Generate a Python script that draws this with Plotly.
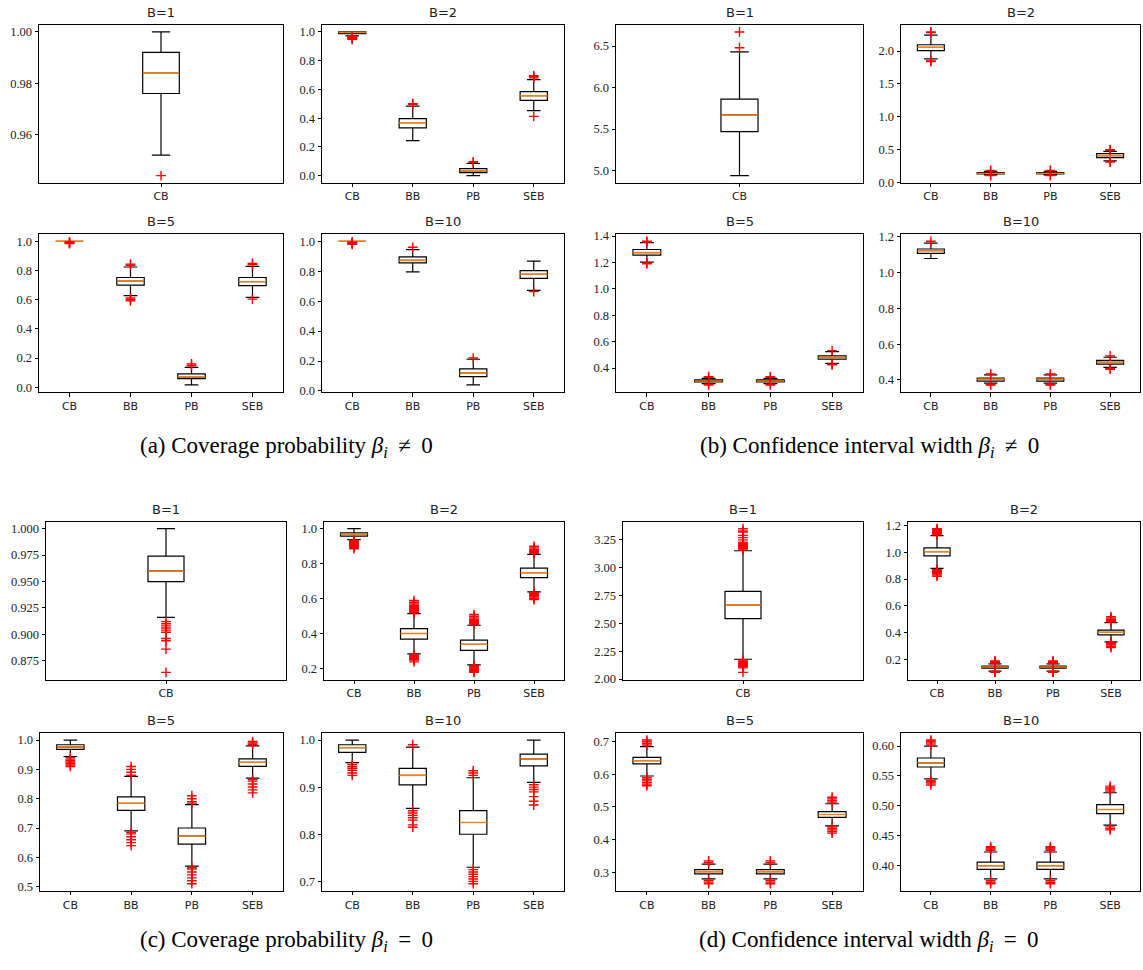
import plotly.graph_objects as go

W, H = 1143, 970

ONE = ["CB"]
FOUR = ["CB", "BB", "PB", "SEB"]

# Each row: (lower whisker, Q1, median, Q3, upper whisker) for one method.
# Outliers per method are kept in the matching *_OUT list.

# (a) coverage probability, beta_i != 0
A1 = [(0.952, 0.976, 0.984, 0.992, 1.000)]
A1_OUT = [[0.944]]
A2 = [(0.972, 0.988, 0.996, 1.000, 1.000),
      (0.244, 0.332, 0.368, 0.396, 0.484),
      (0.000, 0.020, 0.032, 0.048, 0.084),
      (0.452, 0.524, 0.556, 0.584, 0.668)]
A2_OUT = [[0.968, 0.964, 0.960, 0.956, 0.952, 0.948],
          [0.496, 0.500],
          [0.092, 0.096],
          [0.680, 0.688, 0.696, 0.412]]
A5 = [(1.000, 1.000, 1.000, 1.000, 1.000),
      (0.628, 0.700, 0.728, 0.752, 0.824),
      (0.016, 0.060, 0.072, 0.092, 0.136),
      (0.616, 0.696, 0.724, 0.752, 0.828)]
A5_OUT = [[0.996, 0.992, 0.988, 0.984],
          [0.836, 0.844, 0.612, 0.600, 0.592],
          [0.148, 0.160],
          [0.840, 0.848, 0.604]]
A10 = [(1.000, 1.000, 1.000, 1.000, 1.000),
       (0.796, 0.856, 0.872, 0.896, 0.944),
       (0.040, 0.096, 0.120, 0.148, 0.212),
       (0.672, 0.752, 0.780, 0.804, 0.868)]
A10_OUT = [[0.996, 0.992, 0.988, 0.984, 0.980],
           [0.960],
           [0.220],
           [0.664]]

# (b) confidence interval width, beta_i != 0
B1 = [(4.94, 5.47, 5.67, 5.86, 6.43)]
B1_OUT = [[6.48, 6.67]]
B2 = [(1.88, 2.005, 2.055, 2.095, 2.24),
      (0.115, 0.130, 0.140, 0.150, 0.170),
      (0.115, 0.130, 0.140, 0.150, 0.170),
      (0.330, 0.380, 0.410, 0.440, 0.475)]
B2_OUT = [[2.28, 2.29, 1.85, 1.84],
          [0.180, 0.185, 0.110, 0.106],
          [0.180, 0.185, 0.110, 0.106],
          [0.490, 0.500, 0.320, 0.310]]
B5 = [(1.203, 1.255, 1.275, 1.298, 1.350),
      (0.282, 0.295, 0.302, 0.310, 0.322),
      (0.282, 0.295, 0.302, 0.310, 0.322),
      (0.435, 0.467, 0.480, 0.492, 0.525)]
B5_OUT = [[1.355, 1.360, 1.195, 1.190],
          [0.330, 0.335, 0.278, 0.272],
          [0.330, 0.335, 0.278, 0.272],
          [0.532, 0.430, 0.425]]
B10 = [(1.079, 1.108, 1.123, 1.132, 1.165),
       (0.382, 0.393, 0.404, 0.411, 0.428),
       (0.382, 0.393, 0.404, 0.411, 0.428),
       (0.470, 0.488, 0.499, 0.510, 0.527)]
B10_OUT = [[1.175],
           [0.433, 0.430, 0.375, 0.372],
           [0.433, 0.430, 0.375, 0.372],
           [0.534, 0.465, 0.460]]

# (c) coverage probability, beta_i = 0
C1 = [(0.916, 0.950, 0.960, 0.974, 1.000)]
C1_OUT = [[0.912, 0.910, 0.908, 0.906, 0.904, 0.902, 0.896, 0.894, 0.886, 0.864]]
C2 = [(0.938, 0.958, 0.968, 0.977, 1.000),
      (0.285, 0.370, 0.402, 0.430, 0.515),
      (0.223, 0.306, 0.340, 0.364, 0.449),
      (0.640, 0.721, 0.749, 0.775, 0.853)]
C2_OUT = [[0.934, 0.930, 0.926, 0.922, 0.918, 0.914, 0.910, 0.906, 0.900, 0.894, 0.886],
          [0.520, 0.525, 0.530, 0.535, 0.540, 0.545, 0.550, 0.555, 0.560, 0.570, 0.580, 0.590,
           0.280, 0.275, 0.270, 0.265, 0.260, 0.255, 0.250, 0.240],
          [0.455, 0.460, 0.465, 0.470, 0.475, 0.480, 0.490, 0.500, 0.510,
           0.220, 0.215, 0.210, 0.205, 0.200, 0.195, 0.190, 0.185, 0.180],
          [0.860, 0.865, 0.870, 0.875, 0.880, 0.890, 0.900,
           0.635, 0.630, 0.625, 0.620, 0.615, 0.610, 0.600, 0.595]]
C5 = [(0.944, 0.968, 0.976, 0.984, 1.000),
      (0.690, 0.760, 0.784, 0.806, 0.876),
      (0.570, 0.645, 0.672, 0.700, 0.780),
      (0.870, 0.910, 0.924, 0.936, 0.980)]
C5_OUT = [[0.940, 0.935, 0.930, 0.925, 0.920, 0.915, 0.910],
          [0.880, 0.890, 0.900, 0.910, 0.685, 0.680, 0.670, 0.660, 0.650, 0.640],
          [0.785, 0.790, 0.800, 0.810, 0.565, 0.560, 0.550, 0.540, 0.530, 0.520, 0.510],
          [0.985, 0.990, 0.995, 0.865, 0.860, 0.850, 0.840, 0.830, 0.820]]
C10 = [(0.952, 0.974, 0.984, 0.990, 1.000),
       (0.855, 0.905, 0.925, 0.940, 0.985),
       (0.730, 0.800, 0.825, 0.850, 0.920),
       (0.910, 0.945, 0.960, 0.970, 1.000)]
C10_OUT = [[0.948, 0.944, 0.940, 0.936, 0.930, 0.925],
           [0.990, 0.850, 0.845, 0.840, 0.835, 0.830, 0.820, 0.815],
           [0.925, 0.930, 0.935, 0.725, 0.720, 0.715, 0.710, 0.705, 0.700, 0.695],
           [0.905, 0.900, 0.895, 0.890, 0.880, 0.870, 0.862]]

# (d) confidence interval width, beta_i = 0
D1 = [(2.178, 2.543, 2.665, 2.787, 3.152)]
D1_OUT = [[3.16, 3.17, 3.18, 3.19, 3.20, 3.21, 3.22, 3.23, 3.25, 3.27, 3.29, 3.32, 3.33, 3.35,
           2.17, 2.16, 2.15, 2.14, 2.13, 2.12, 2.11, 2.10, 2.06]]
D2 = [(0.879, 0.972, 1.004, 1.033, 1.124),
      (0.114, 0.137, 0.145, 0.152, 0.168),
      (0.114, 0.137, 0.145, 0.152, 0.168),
      (0.332, 0.384, 0.403, 0.420, 0.475)]
D2_OUT = [[1.130, 1.135, 1.140, 1.145, 1.150, 1.155, 1.160, 1.170, 1.175,
           0.870, 0.865, 0.860, 0.855, 0.850, 0.845, 0.840, 0.830, 0.820],
          [0.170, 0.175, 0.180, 0.185, 0.190, 0.112, 0.110, 0.108, 0.105],
          [0.170, 0.175, 0.180, 0.185, 0.190, 0.112, 0.110, 0.108, 0.105],
          [0.480, 0.485, 0.490, 0.495, 0.500, 0.510, 0.520,
           0.330, 0.325, 0.320, 0.315, 0.310, 0.300, 0.290]]
D5 = [(0.595, 0.632, 0.642, 0.652, 0.685),
      (0.280, 0.295, 0.302, 0.308, 0.325),
      (0.280, 0.295, 0.302, 0.308, 0.325),
      (0.442, 0.468, 0.477, 0.486, 0.510)]
D5_OUT = [[0.690, 0.695, 0.700, 0.705, 0.590, 0.585, 0.580, 0.575, 0.570, 0.565],
          [0.330, 0.335, 0.275, 0.270, 0.265],
          [0.330, 0.335, 0.275, 0.270, 0.265],
          [0.515, 0.520, 0.525, 0.530, 0.440, 0.435, 0.430, 0.425, 0.420]]
D10 = [(0.545, 0.565, 0.572, 0.580, 0.600),
       (0.378, 0.394, 0.400, 0.406, 0.423),
       (0.378, 0.394, 0.400, 0.406, 0.423),
       (0.468, 0.487, 0.494, 0.502, 0.522)]
D10_OUT = [[0.602, 0.605, 0.608, 0.610, 0.542, 0.540, 0.538, 0.535],
           [0.426, 0.428, 0.430, 0.432, 0.375, 0.372, 0.370],
           [0.426, 0.428, 0.430, 0.432, 0.375, 0.372, 0.370],
           [0.525, 0.528, 0.530, 0.533, 0.465, 0.462, 0.460]]

# Panel layout: data, fliers, categories, title, pixel box (left, right, top, bottom),
# y tick step, y tick format
PANELS = [
    (A1, A1_OUT, ONE, "B=1", (39, 283, 20, 180), 0.02, ".2f"),
    (A2, A2_OUT, FOUR, "B=2", (322, 564, 20, 180), 0.2, ".1f"),
    (A5, A5_OUT, FOUR, "B=5", (39, 283, 232, 392), 0.2, ".1f"),
    (A10, A10_OUT, FOUR, "B=10", (322, 564, 232, 392), 0.2, ".1f"),
    (B1, B1_OUT, ONE, "B=1", (616, 863, 20, 180), 0.5, ".1f"),
    (B2, B2_OUT, FOUR, "B=2", (901, 1140, 20, 180), 0.5, ".1f"),
    (B5, B5_OUT, FOUR, "B=5", (616, 863, 232, 392), 0.2, ".1f"),
    (B10, B10_OUT, FOUR, "B=10", (901, 1140, 232, 392), 0.2, ".1f"),
    (C1, C1_OUT, ONE, "B=1", (46, 286, 523, 683), 0.025, ".3f"),
    (C2, C2_OUT, FOUR, "B=2", (324, 564, 523, 683), 0.2, ".1f"),
    (C5, C5_OUT, FOUR, "B=5", (40, 283, 737, 897), 0.1, ".1f"),
    (C10, C10_OUT, FOUR, "B=10", (322, 564, 737, 897), 0.1, ".1f"),
    (D1, D1_OUT, ONE, "B=1", (623, 863, 523, 683), 0.25, ".2f"),
    (D2, D2_OUT, FOUR, "B=2", (908, 1140, 523, 683), 0.2, ".1f"),
    (D5, D5_OUT, FOUR, "B=5", (616, 863, 737, 897), 0.1, ".1f"),
    (D10, D10_OUT, FOUR, "B=10", (901, 1140, 737, 897), 0.05, ".2f"),
]

TS = "\u2009"  # thin space, for math-style spacing around the relation sign
CAPTIONS = [
    (f"(a) Coverage probability <i>β</i><sub><i>i</i></sub>{TS} ≠ {TS}0", 287, 448),
    (f"(b) Confidence interval width <i>β</i><sub><i>i</i></sub>{TS} ≠ {TS}0", 869, 448),
    (f"(c) Coverage probability <i>β</i><sub><i>i</i></sub>{TS} = {TS}0", 287, 948),
    (f"(d) Confidence interval width <i>β</i><sub><i>i</i></sub>{TS} = {TS}0", 869, 948),
]

fig = go.Figure()
layout = {}
annotations = []

for i, (stats, fliers, cats, title, (x0, x1, y0, y1), step, fmt) in enumerate(PANELS, start=1):
    xa, ya = f"x{i}", f"y{i}"
    n = len(cats)
    pos = list(range(1, n + 1))
    width = min(max(0.15 * (pos[-1] - pos[0]), 0.15), 0.5)
    lo, q1, med, q3, hi = (list(c) for c in zip(*stats))

    fig.add_trace(go.Box(
        x=pos, lowerfence=lo, q1=q1, median=med, q3=q3, upperfence=hi,
        width=width, whiskerwidth=0.5, boxpoints=False,
        line=dict(color="black", width=1.2), fillcolor="rgba(0,0,0,0)",
        xaxis=xa, yaxis=ya, hoverinfo="skip", showlegend=False))

    mx, my = [], []
    for p, m in zip(pos, med):
        mx += [p - width / 2, p + width / 2, None]
        my += [m, m, None]
    fig.add_trace(go.Scatter(
        x=mx, y=my, mode="lines", line=dict(color="#ff7f0e", width=1.4),
        xaxis=xa, yaxis=ya, hoverinfo="skip", showlegend=False))

    fx, fy = [], []
    for p, vals in zip(pos, fliers):
        fx += [p] * len(vals)
        fy += vals
    fig.add_trace(go.Scatter(
        x=fx, y=fy, mode="markers",
        marker=dict(symbol="cross-thin", size=7, color="red",
                    line=dict(color="red", width=1.4)),
        xaxis=xa, yaxis=ya, hoverinfo="skip", showlegend=False))

    allv = lo + hi + [v for vals in fliers for v in vals]
    vmin, vmax = min(allv), max(allv)
    pad = 0.05 * (vmax - vmin)

    key = "" if i == 1 else str(i)
    layout[f"xaxis{key}"] = dict(
        domain=[x0 / W, x1 / W], anchor=ya, range=[0.5, n + 0.5],
        tickmode="array", tickvals=pos, ticktext=cats,
        ticks="outside", ticklen=3.5, tickwidth=0.8, tickcolor="black",
        showline=True, mirror=True, linecolor="black", linewidth=1,
        showgrid=False, zeroline=False,
        tickfont=dict(family="DejaVu Sans", size=11, color="#222"))
    layout[f"yaxis{key}"] = dict(
        domain=[1 - y1 / H, 1 - y0 / H], anchor=xa,
        range=[vmin - pad, vmax + pad],
        tick0=0, dtick=step, tickformat=fmt,
        ticks="outside", ticklen=3.5, tickwidth=0.8, tickcolor="black",
        showline=True, mirror=True, linecolor="black", linewidth=1,
        showgrid=False, zeroline=False,
        tickfont=dict(family="Liberation Serif", size=12.5, color="#222"))

    annotations.append(dict(
        text=title, xref="paper", yref="paper",
        x=(x0 + x1) / 2 / W, y=1 - (y0 - 3) / H,
        xanchor="center", yanchor="bottom", showarrow=False,
        font=dict(family="DejaVu Sans", size=13, color="#222")))

for text, cx, cy in CAPTIONS:
    annotations.append(dict(
        text=text, xref="paper", yref="paper", x=cx / W, y=1 - cy / H,
        xanchor="center", yanchor="middle", showarrow=False,
        font=dict(family="Liberation Serif", size=23, color="black")))

fig.update_layout(
    width=W, height=H, margin=dict(l=0, r=0, t=0, b=0),
    paper_bgcolor="white", plot_bgcolor="white",
    showlegend=False, boxmode="overlay", annotations=annotations, **layout)

fig.write_html("out.html")
